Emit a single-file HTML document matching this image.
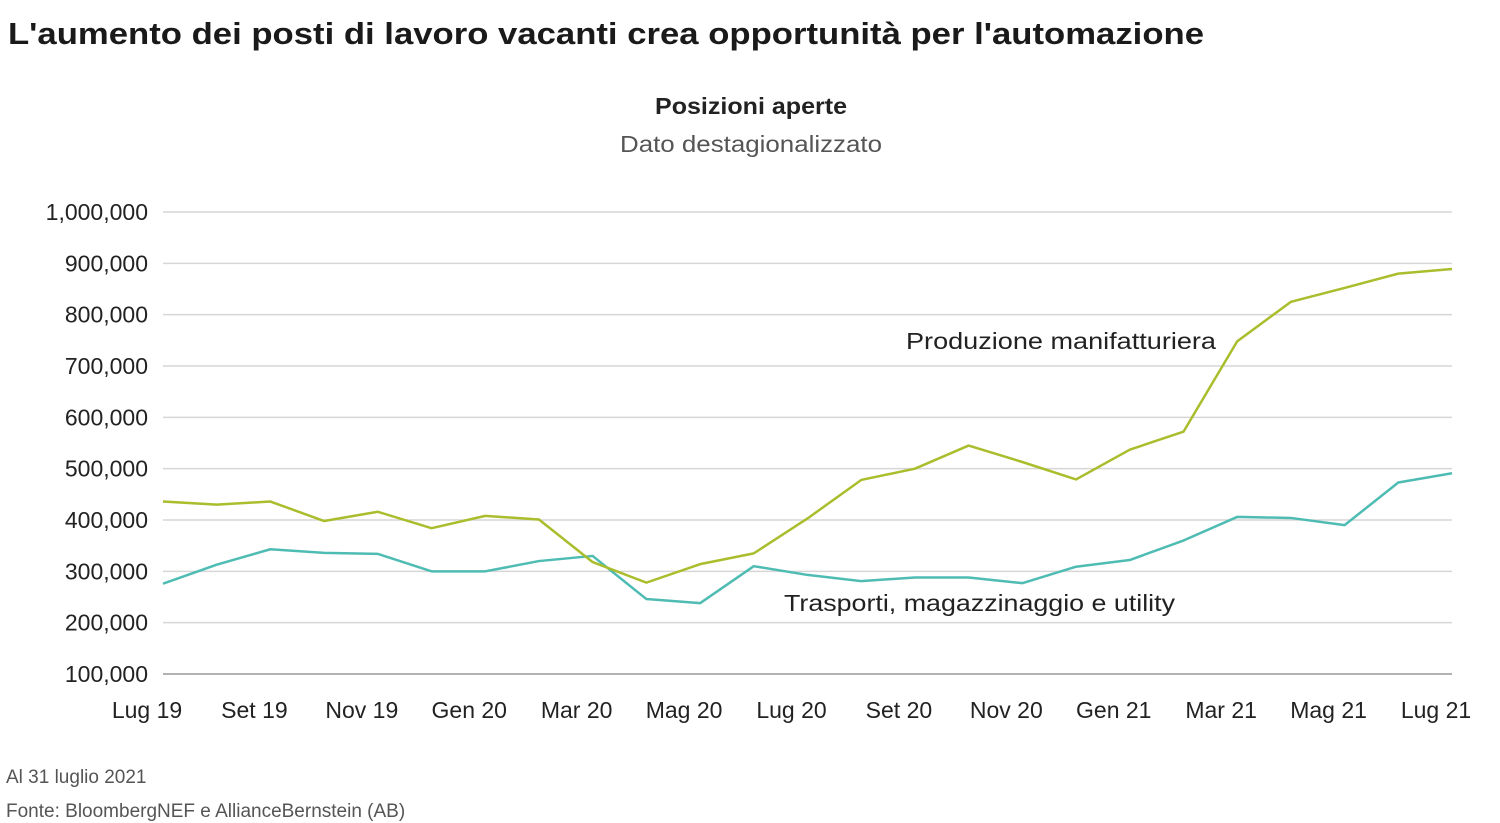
<!DOCTYPE html>
<html><head><meta charset="utf-8"><style>
body{margin:0;background:#fff;}
svg{display:block;font-family:"Liberation Sans",sans-serif;}
</style></head><body>
<svg width="1500" height="823" id="chart">
<text x="8" y="44" font-size="31" font-weight="bold" fill="#1a1a1a" textLength="1196" lengthAdjust="spacingAndGlyphs">L'aumento dei posti di lavoro vacanti crea opportunità per l'automazione</text>
<text x="751" y="114" font-size="23" font-weight="bold" text-anchor="middle" fill="#222" textLength="192" lengthAdjust="spacingAndGlyphs">Posizioni aperte</text>
<text x="751" y="152" font-size="23" text-anchor="middle" fill="#555" textLength="262" lengthAdjust="spacingAndGlyphs">Dato destagionalizzato</text>
<g id="grid"></g><g id="ylab"></g><g id="xlab"></g><g id="lines"></g>
<text x="906" y="349" font-size="23" fill="#222" textLength="310" lengthAdjust="spacingAndGlyphs">Produzione manifatturiera</text>
<text x="784" y="611" font-size="23" fill="#222" textLength="391" lengthAdjust="spacingAndGlyphs">Trasporti, magazzinaggio e utility</text>
<text x="6" y="783" font-size="19" fill="#555">Al 31 luglio 2021</text>
<text x="6" y="817" font-size="19" fill="#555">Fonte: BloombergNEF e AllianceBernstein (AB)</text>
</svg>
<script>
const months=["Lug 19","Set 19","Nov 19","Gen 20","Mar 20","Mag 20","Lug 20","Set 20","Nov 20","Gen 21","Mar 21","Mag 21","Lug 21"];
const yTicks=[100000,200000,300000,400000,500000,600000,700000,800000,900000,1000000];
const manifattura=[436000,430000,436000,398000,416000,384000,408000,401000,318000,278000,314000,335000,403000,478000,500000,545000,513000,479000,537000,572000,748000,825000,852000,880000,889000];
const trasporti=[276000,313000,343000,336000,334000,300000,300000,320000,330000,246000,238000,310000,293000,281000,288000,288000,277000,309000,322000,360000,406000,404000,390000,473000,491000];
const NS="http://www.w3.org/2000/svg";
const x=i=>163+i*(1452-163)/24;
const y=v=>674-(v-100000)*(674-212)/900000;
function mk(t,a,p){const e=document.createElementNS(NS,t);for(const k in a)e.setAttribute(k,a[k]);p.appendChild(e);return e;}
const grid=document.getElementById('grid'),yl=document.getElementById('ylab'),xl=document.getElementById('xlab'),ln=document.getElementById('lines');
yTicks.forEach(v=>{
 const l=mk('line',{x1:163,x2:1452,y1:y(v),y2:y(v),stroke:v===100000?'#999':'#d6d6d6','stroke-width':1.5},grid);
 
 
 const t=mk('text',{x:148,y:y(v)+8,'font-size':23,'text-anchor':'end',fill:'#222'},yl);
 t.textContent=v.toLocaleString('en-US');
 
 
});
months.forEach((m,k)=>{
 const t=mk('text',{x:x(k*2)-16,y:718,'font-size':23,'text-anchor':'middle',fill:'#222'},xl);
 t.textContent=m;
 
 
});
function series(d,c,n){
 const p=mk('polyline',{points:d.map((v,i)=>x(i)+','+y(v)).join(' '),fill:'none',stroke:c,'stroke-width':2.5,'stroke-linejoin':'round'},ln);
 
 
}
series(trasporti,'#4fbcb4','line-trasporti');
series(manifattura,'#aabd2c','line-produzione');
</script>
</body></html>
